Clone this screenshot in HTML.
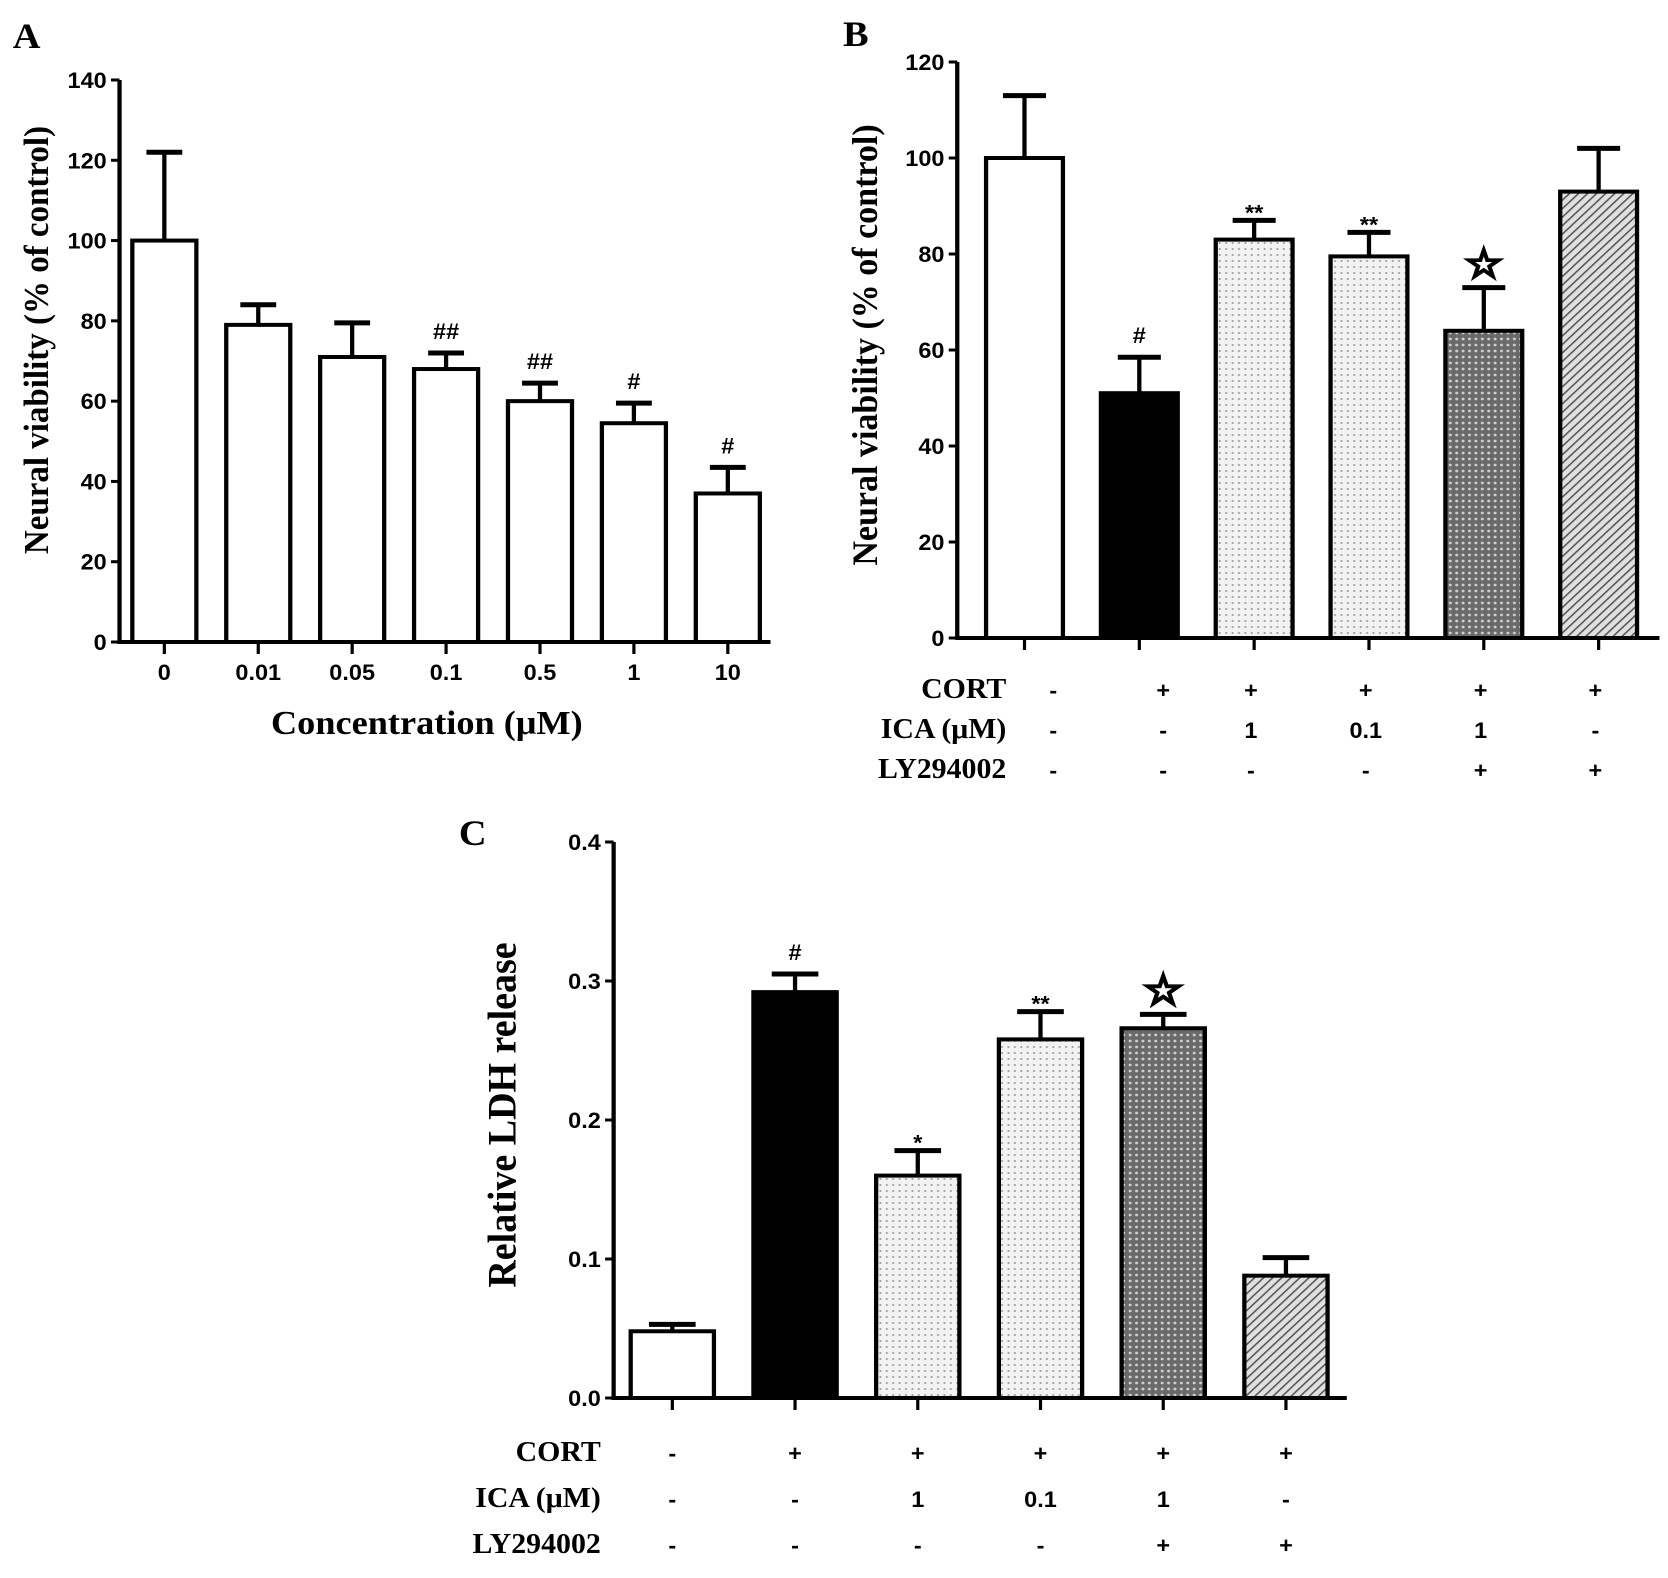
<!DOCTYPE html>
<html><head><meta charset="utf-8"><style>
html,body{margin:0;padding:0;background:#fff;}
svg{display:block;}
.tk{font-family:"Liberation Sans",sans-serif;font-weight:bold;font-size:22px;}
.tt{font-family:"Liberation Serif",serif;font-weight:bold;}
</style></head><body>
<svg id="fig" width="1668" height="1578" viewBox="0 0 1563 1578" preserveAspectRatio="none" xmlns="http://www.w3.org/2000/svg">
<defs>
<pattern id="dots" width="6" height="6" patternUnits="userSpaceOnUse"><rect width="6" height="6" fill="#f2f2f2"/><circle cx="3" cy="3" r="1" fill="#999"/></pattern>
<pattern id="cross" width="6" height="6" patternUnits="userSpaceOnUse"><rect width="6" height="6" fill="#6a6a6a"/><circle cx="3" cy="3" r="1.4" fill="#cfcfcf"/></pattern>
<pattern id="hatch" width="6" height="6" patternUnits="userSpaceOnUse" patternTransform="rotate(45)"><rect width="6" height="6" fill="#e0e0e0"/><line x1="0" y1="0" x2="0" y2="6" stroke="#555" stroke-width="3"/></pattern>
</defs>
<g id="A"></g>
<g id="B"></g>
<g id="C"></g>
</svg>
<script>
const aCats=["0","0.01","0.05","0.1","0.5","1","10"];
const aVals=[100,79,71,68,60,54.5,37];
const aErr=[122,84,79.5,72,64.5,59.5,43.5];
const aMarks=["","","","##","##","#","#"];
const aTicks=[0,20,40,60,80,100,120,140];

const bVals=[100,51,83,79.5,64,93];
const bErr=[113,58.5,87,84.5,73,102];
const bMarks=["","#","**","**","☆",""];
const bTicks=[0,20,40,60,80,100,120];

const cVals=[0.048,0.292,0.16,0.258,0.266,0.088];
const cErr=[0.053,0.305,0.178,0.278,0.276,0.101];
const cMarks=["","#","*","**","☆",""];
const cTicks=["0.0","0.1","0.2","0.3","0.4"];

const cort=["-","+","+","+","+","+"];
const ica=["-","-","1","0.1","1","-"];
const ly=["-","-","-","-","+","+"];
const fills=["#fff","#000","url(#dots)","url(#dots)","url(#cross)","url(#hatch)"];

const NS="http://www.w3.org/2000/svg";
function mk(p,t,a,txt){const e=document.createElementNS(NS,t);for(const k in a)e.setAttribute(k,a[k]);if(txt!==undefined)e.textContent=txt;p.appendChild(e);return e;}

function panel(g,cfg){
  const y=v=>cfg.y0-(v-cfg.vmin)/(cfg.vmax-cfg.vmin)*(cfg.y0-cfg.y1);
  const x=i=>cfg.x0+cfg.first+i*cfg.step;
  const ax=mk(g,"path",{d:`M${cfg.ax} ${cfg.y1} V${cfg.y0} H${cfg.xend}`,stroke:"#000","stroke-width":4,fill:"none"});
  
  
  cfg.ticks.forEach(t=>{const v=parseFloat(t);
    mk(g,"line",{x1:cfg.ax-8,x2:cfg.ax,y1:y(v),y2:y(v),stroke:"#000","stroke-width":3});
    const l=mk(g,"text",{x:cfg.ax-12,y:y(v)+8,"text-anchor":"end",class:"tk","font-size":cfg.tfs},t);
    
    
  });
  cfg.vals.forEach((v,i)=>{
    const cx=x(i),w=cfg.bw;
    mk(g,"line",{x1:cx,x2:cx,y1:y(cfg.err[i]),y2:y(v),stroke:"#000","stroke-width":4});
    mk(g,"line",{x1:cx-w*0.28,x2:cx+w*0.28,y1:y(cfg.err[i]),y2:y(cfg.err[i]),stroke:"#000","stroke-width":5});
    const r=mk(g,"rect",{x:cx-w/2,y:y(v),width:w,height:y(cfg.vmin)-y(v),fill:cfg.fills[i],stroke:"#000","stroke-width":4});
    
    
    mk(g,"line",{x1:cx,x2:cx,y1:cfg.y0,y2:cfg.y0+12,stroke:"#000","stroke-width":3});
    const m=cfg.marks[i];
    if(m){const isStar=m==="☆";
      const t=mk(g,"text",{x:cx,y:y(cfg.err[i])-(isStar?10:(m.startsWith("#")?14:0)),"text-anchor":"middle",class:isStar?"tt":"tk","font-size":m.startsWith("#")?cfg.hfs:(isStar?cfg.stfs:cfg.sfs),"stroke":isStar?"#000":"none","stroke-width":isStar?1.5:0},m);
      
      }
  });
  return x;
}
function rows(g,x,names,rowsY,lx,fs){
  [cort,ica,ly].forEach((arr,r)=>{
    const l=mk(g,"text",{x:lx,y:rowsY[r],"text-anchor":"end",class:"tt","font-size":fs},names[r]);
    
    
    arr.forEach((s,i)=>{const t=mk(g,"text",{x:x(i),y:rowsY[r],"text-anchor":"middle",class:"tk","font-size":s==="-"?24:26},s);
      
      });
  });
}
// Panel A
const gA=document.getElementById("A");
const xA=panel(gA,{ax:112,x0:112,first:42,step:88,bw:60,y0:642,y1:80,vmin:0,vmax:140,xend:722,vals:aVals,err:aErr,marks:aMarks,ticks:aTicks.map(String),fills:aVals.map(()=>"#fff"),tfs:20,hfs:18,sfs:26,stfs:36});
aCats.forEach((c,i)=>{const t=mk(gA,"text",{x:xA(i),y:680,"text-anchor":"middle",class:"tk","font-size":22},c);
  
  });
let t;
t=mk(gA,"text",{x:400,y:734,"text-anchor":"middle",class:"tt","font-size":34},"Concentration (μM)");

t=mk(gA,"text",{x:0,y:0,transform:"translate(45,340) rotate(-90)","text-anchor":"middle",class:"tt","font-size":33},"Neural viability (% of control)");

t=mk(gA,"text",{x:12,y:48,class:"tt","font-size":36},"A");

// Panel B
const gB=document.getElementById("B");
const xB=panel(gB,{ax:897,x0:897,first:63,step:107.6,bw:72,y0:638,y1:62,vmin:0,vmax:120,xend:1555,vals:bVals,err:bErr,marks:bMarks,ticks:bTicks.map(String),fills:fills,tfs:22,hfs:26,sfs:38,stfs:40});
rows(gB,i=>i===0?987:(i===1?1090:xB(i)-3),["CORT","ICA (μM)","LY294002"],[698,738,778],943,28);
t=mk(gB,"text",{x:0,y:0,transform:"translate(822,345) rotate(-90)","text-anchor":"middle",class:"tt","font-size":34},"Neural viability (% of control)");

t=mk(gB,"text",{x:790,y:46,class:"tt","font-size":36},"B");

// Panel C
const gC=document.getElementById("C");
const xC=panel(gC,{ax:575,x0:575,first:55,step:115,bw:78,y0:1398,y1:842,vmin:0,vmax:0.4,xend:1262,vals:cVals,err:cErr,marks:cMarks,ticks:cTicks,fills:fills,tfs:24,hfs:30,sfs:44,stfs:42});
rows(gC,xC,["CORT","ICA (μM)","LY294002"],[1461,1507,1553],563,28);
t=mk(gC,"text",{x:0,y:0,transform:"translate(483,1115) rotate(-90)","text-anchor":"middle",class:"tt","font-size":38},"Relative LDH release");

t=mk(gC,"text",{x:430,y:845,class:"tt","font-size":36},"C");

</script>
</body></html>
